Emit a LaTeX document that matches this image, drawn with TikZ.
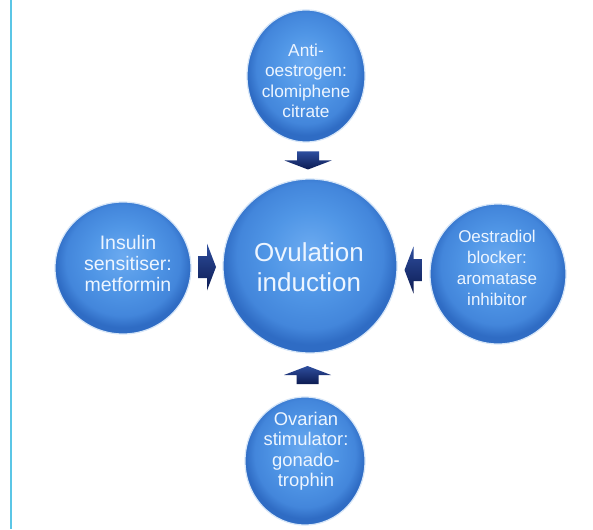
\documentclass[tikz,border=0pt]{standalone}
\usepackage{fontspec}
\setmainfont{Liberation Sans}
\usetikzlibrary{calc,shapes.geometric}
\definecolor{sphA}{HTML}{6BAAF0}
\definecolor{sphB}{HTML}{5096E6}
\definecolor{sphC}{HTML}{4386DB}
\definecolor{sphD}{HTML}{2F6CC4}
\definecolor{txtcol}{HTML}{EDF5FF}
\definecolor{arrtop}{HTML}{2E4E9E}
\definecolor{arrbot}{HTML}{0C1B52}
\definecolor{sideline}{HTML}{5BC6E6}
\definecolor{halo}{HTML}{D6E6F8}
\pgfdeclareradialshading{sphere}{\pgfpoint{0bp}{5bp}}{color(0bp)=(sphA); color(12bp)=(sphB); color(21bp)=(sphC); color(25bp)=(sphD); color(50bp)=(sphD)}
\newcommand\blockarr[3]{%
  \begin{scope}[shift={($(#1)!0.5!(#2)$)}, rotate=#3]
    \shade[top color=arrtop, bottom color=arrbot, shading angle=0]
      (-9pt,-11pt) -- (0pt,-11pt) -- (0pt,-23.5pt) -- (9pt,0pt) -- (0pt,23.5pt) -- (0pt,11pt) -- (-9pt,11pt) -- cycle;
  \end{scope}}
\begin{document}
\begin{tikzpicture}[x=1pt,y=-1pt,
  bubble/.style={shape=ellipse, inner sep=0pt, shading=sphere, draw=halo, line width=1.2pt},
  txt/.style={text=txtcol, align=center, inner sep=0pt}]
\useasboundingbox (0,0) rectangle (593,529);
\fill[white] (0,0) rectangle (593,529);
\coordinate (lt) at (11,0);
\coordinate (lb) at (11,529);
\draw[sideline, line width=2.5pt] (lt) -- (lb);

\node[bubble, minimum width=174pt, minimum height=174pt] (center) at (310,266) {};
\node[bubble, minimum width=118pt, minimum height=132pt] (top) at (306,76) {};
\node[bubble, minimum width=136pt, minimum height=132pt] (left) at (123,268) {};
\node[bubble, minimum width=136pt, minimum height=140pt] (right) at (498,274) {};
\node[bubble, minimum width=120pt, minimum height=128pt] (bottom) at (305,461) {};

\node[txt, font=\fontsize{26}{30}\selectfont] (ctext) at (309,267) {Ovulation\\induction};
\node[txt, font=\fontsize{17.3}{20.5}\selectfont] (ttext) at (306,81) {Anti-\\oestrogen:\\clomiphene\\citrate};
\node[txt, font=\fontsize{19.5}{21}\selectfont] (ltext) at (128,264) {Insulin\\sensitiser:\\metformin};
\node[txt, font=\fontsize{17}{21}\selectfont] (rtext) at (497,268) {Oestradiol\\blocker:\\aromatase\\inhibitor};
\node[txt, font=\fontsize{18.4}{20.5}\selectfont] (btext) at (306,451) {Ovarian\\stimulator:\\gonado-\\trophin};

\blockarr{top.south}{center.north}{-90}
\blockarr{bottom.north}{center.south}{90}
\blockarr{left.east}{center.west}{0}
\blockarr{right.west}{center.east}{180}
\end{tikzpicture}
\end{document}
